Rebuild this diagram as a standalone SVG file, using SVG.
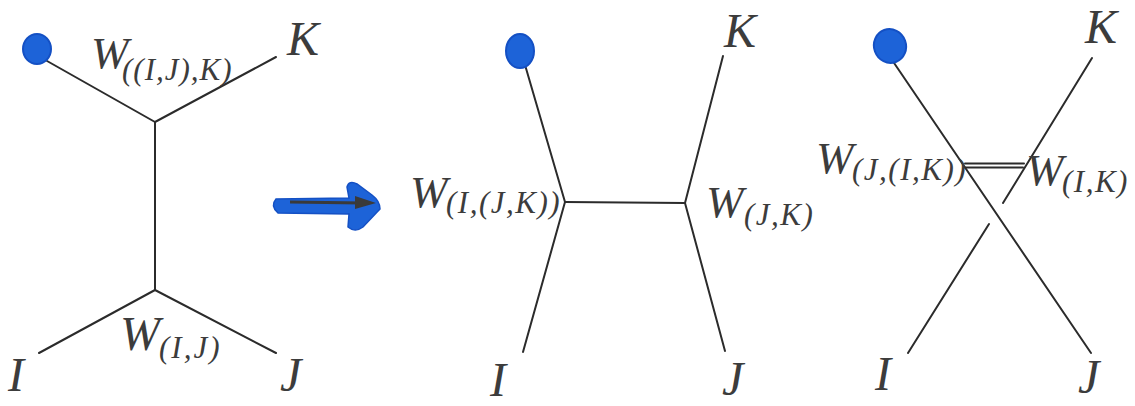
<svg xmlns="http://www.w3.org/2000/svg" width="1135" height="406" viewBox="0 0 1135 406">
<style>
.e{stroke:#2b2b2b;stroke-width:2;fill:none;stroke-linecap:round}
.t{font-family:"Liberation Serif","Times New Roman",serif;font-style:italic;fill:#3c3c3c}
.big{font-size:48px}
.w{font-size:45px}
.s{font-size:31px}
.dot{fill:#1d63d8;stroke:#1450c4;stroke-width:2}
</style>
<rect width="1135" height="406" fill="#ffffff"/>
<g id="connectors">
  <line class="e" x1="40" y1="57" x2="155" y2="122"/>
  <line class="e" x1="155" y1="122" x2="276" y2="57"/>
  <line class="e" x1="155" y1="122" x2="155" y2="290"/>
  <line class="e" x1="155" y1="290" x2="39" y2="353"/>
  <line class="e" x1="155" y1="290" x2="276" y2="353"/>
  <line class="e" x1="523" y1="58" x2="565" y2="202"/>
  <line class="e" x1="565" y1="202" x2="523" y2="352"/>
  <line class="e" x1="565" y1="202" x2="685" y2="203"/>
  <line class="e" x1="685" y1="203" x2="723" y2="56"/>
  <line class="e" x1="685" y1="203" x2="725" y2="351"/>
  <line class="e" x1="890" y1="57" x2="1091" y2="353"/>
  <line class="e" x1="1092" y1="58" x2="1003" y2="203"/>
  <line class="e" x1="908" y1="353" x2="989" y2="224"/>
  <line class="e" x1="965" y1="163.5" x2="1024" y2="163.5"/>
  <line class="e" x1="965" y1="167.5" x2="1023" y2="167.5"/>
</g>
<g id="arrow">
  <path d="M276,199 Q270,206 278,213 L349,214 L348,227 Q355,233 363,227 L380,209 Q380,201 372,195 L357,184 Q349,180 347,187 L349,198 Z" fill="#1d63d8" stroke="#1450c4" stroke-width="1.5"/>
  <line x1="290" y1="202" x2="362" y2="203" stroke="#3a3a3a" stroke-width="3"/>
  <polygon points="355,196 376,203 355,209" fill="#3a3a3a"/>
</g>
<g id="tree1">
  <g id="root1"><ellipse class="dot" cx="37" cy="49" rx="14" ry="15"/></g>
  <g id="w1"><text class="t w" x="91" y="68">W</text><text class="t s" x="122" y="80" letter-spacing="1">((I,J),K)</text></g>
  <g id="k1"><text class="t big" x="287" y="55">K</text></g>
  <g id="w2"><text class="t big" x="120" y="350">W</text><text class="t s" x="159" y="358" letter-spacing="2">(I,J)</text></g>
  <g id="i1"><text class="t big" x="8" y="391">I</text></g>
  <g id="j1"><text class="t big" x="280" y="391">J</text></g>
</g>
<g id="tree2">
  <g id="root2"><ellipse class="dot" cx="520" cy="51" rx="14" ry="17"/></g>
  <g id="w3"><text class="t w" x="410" y="207">W</text><text class="t s" x="446" y="213" letter-spacing="1.5">(I,(J,K))</text></g>
  <g id="w4"><text class="t w" x="706" y="217">W</text><text class="t s" x="744" y="225" letter-spacing="1.5">(J,K)</text></g>
  <g id="k2"><text class="t big" x="724" y="47">K</text></g>
  <g id="i2"><text class="t big" x="490" y="396">I</text></g>
  <g id="j2"><text class="t big" x="722" y="395">J</text></g>
</g>
<g id="tree3">
  <g id="root3"><ellipse class="dot" cx="890" cy="46" rx="16" ry="17" transform="rotate(-20 890 46)"/></g>
  <g id="w5"><text class="t w" x="816" y="173">W</text><text class="t s" x="852" y="180" letter-spacing="1.5">(J,(I,K))</text></g>
  <g id="w6"><text class="t w" x="1026" y="185">W</text><text class="t s" x="1062" y="192" letter-spacing="1.5">(I,K)</text></g>
  <g id="k3"><text class="t big" x="1085" y="43">K</text></g>
  <g id="i3"><text class="t big" x="875" y="390">I</text></g>
  <g id="j3"><text class="t big" x="1078" y="393">J</text></g>
</g>
</svg>
